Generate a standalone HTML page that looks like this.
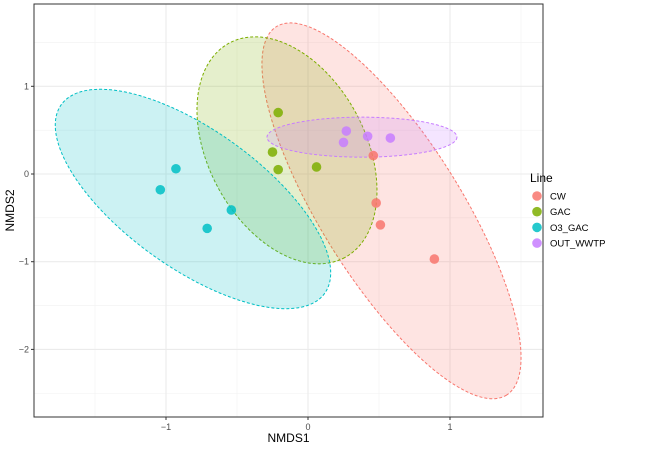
<!DOCTYPE html>
<html><head><meta charset="utf-8"><style>
body{margin:0;background:#fff;font-family:"Liberation Sans",sans-serif;}
svg text{font-family:"Liberation Sans",sans-serif;}
</style></head><body>
<svg id="chart" width="650" height="451" xmlns="http://www.w3.org/2000/svg"></svg>
<script>
const groups=["CW","GAC","O3_GAC","OUT_WWTP"];
const colors=["#F8766D","#7CAE00","#00BFC4","#C77CFF"];
const cwX=[0.46,0.48,0.51,0.89];
const cwY=[0.21,-0.33,-0.58,-0.97];
const gacX=[-0.21,-0.25,-0.21,0.06];
const gacY=[0.70,0.25,0.05,0.08];
const o3X=[-0.93,-1.04,-0.54,-0.71];
const o3Y=[0.06,-0.18,-0.41,-0.62];
const outX=[0.27,0.25,0.42,0.58];
const outY=[0.49,0.36,0.43,0.41];
const ellCX=[0.588,-0.148,-0.81,0.38];
const ellCY=[-0.42,0.27,-0.285,0.42];
const xTicks=[-1,0,1];
const yTicks=[1,0,-1,-2];
const xMinor=[-1.5,-0.5,0.5,1.5];
const yMinor=[1.5,0.5,-0.5,-1.5,-2.5];
const ellShape=[[217.2,70.1,58.0],[121.8,78.4,61.7],[162,69,35.6],[95,20,0]];
const L=34,R=543,T=4,B=417;
const xs=v=>308+142*v, ys=v=>174-87.7*v;
const svg=document.getElementById('chart');
const NS="http://www.w3.org/2000/svg";
function mk(t,a,p){const e=document.createElementNS(NS,t);for(const k in a)e.setAttribute(k,a[k]);(p||svg).appendChild(e);return e;}
const bg=mk('rect',{x:L,y:T,width:R-L,height:B-T,fill:'#fff'});


xMinor.forEach(v=>{const l=mk('line',{x1:xs(v),x2:xs(v),y1:T,y2:B,stroke:'#f2f2f2','stroke-width':0.6});

});
yMinor.forEach(v=>{const l=mk('line',{x1:L,x2:R,y1:ys(v),y2:ys(v),stroke:'#f2f2f2','stroke-width':0.6});

});
xTicks.forEach(v=>{const l=mk('line',{x1:xs(v),x2:xs(v),y1:T,y2:B,stroke:'#ebebeb','stroke-width':1.1});


const tk=mk('line',{x1:xs(v),x2:xs(v),y1:B,y2:B+3,stroke:'#333'});


const t=mk('text',{x:xs(v),y:B+13,'text-anchor':'middle','font-size':9,fill:'#4d4d4d'});t.textContent=v===0?'0':String(v).replace('-','\u2212');

});
yTicks.forEach(v=>{const l=mk('line',{x1:L,x2:R,y1:ys(v),y2:ys(v),stroke:'#ebebeb','stroke-width':1.1});


const tk=mk('line',{x1:L-3,x2:L,y1:ys(v),y2:ys(v),stroke:'#333'});


const t=mk('text',{x:L-5,y:ys(v)+3,'text-anchor':'end','font-size':9,fill:'#4d4d4d'});t.textContent=v===0?'0':String(v).replace('-','\u2212');

});
groups.forEach((g,i)=>{const s=ellShape[i];
const e=mk('ellipse',{cx:0,cy:0,rx:s[0],ry:s[1],transform:`translate(${xs(ellCX[i])},${ys(ellCY[i])}) rotate(${s[2]})`,fill:colors[i],'fill-opacity':0.2,stroke:colors[i],'stroke-dasharray':'3,2','stroke-width':1});

});
const allX=[cwX,gacX,o3X,outX],allY=[cwY,gacY,o3Y,outY];
groups.forEach((g,i)=>{allX[i].forEach((x,j)=>{const c=mk('circle',{cx:xs(x),cy:ys(allY[i][j]),r:4.8,fill:colors[i],'fill-opacity':0.85});

});});
const fr=mk('rect',{x:L,y:T,width:R-L,height:B-T,fill:'none',stroke:'#333','stroke-width':1});


let t=mk('text',{x:(L+R)/2,y:442,'text-anchor':'middle','font-size':12,fill:'#000'});t.textContent='NMDS1';


t=mk('text',{x:0,y:0,'text-anchor':'middle','font-size':12,fill:'#000',transform:`translate(14,${(T+B)/2}) rotate(-90)`});t.textContent='NMDS2';


t=mk('text',{x:530,y:182,'font-size':12,fill:'#000'});t.textContent='Line';


groups.forEach((g,i)=>{const y=196+15.7*i;
const c=mk('circle',{cx:537,cy:y,r:4.8,fill:colors[i],'fill-opacity':0.85});


const tx=mk('text',{x:550,y:y+3.5,'font-size':9.5,fill:'#000'});tx.textContent=g;

});
</script>
</body></html>
